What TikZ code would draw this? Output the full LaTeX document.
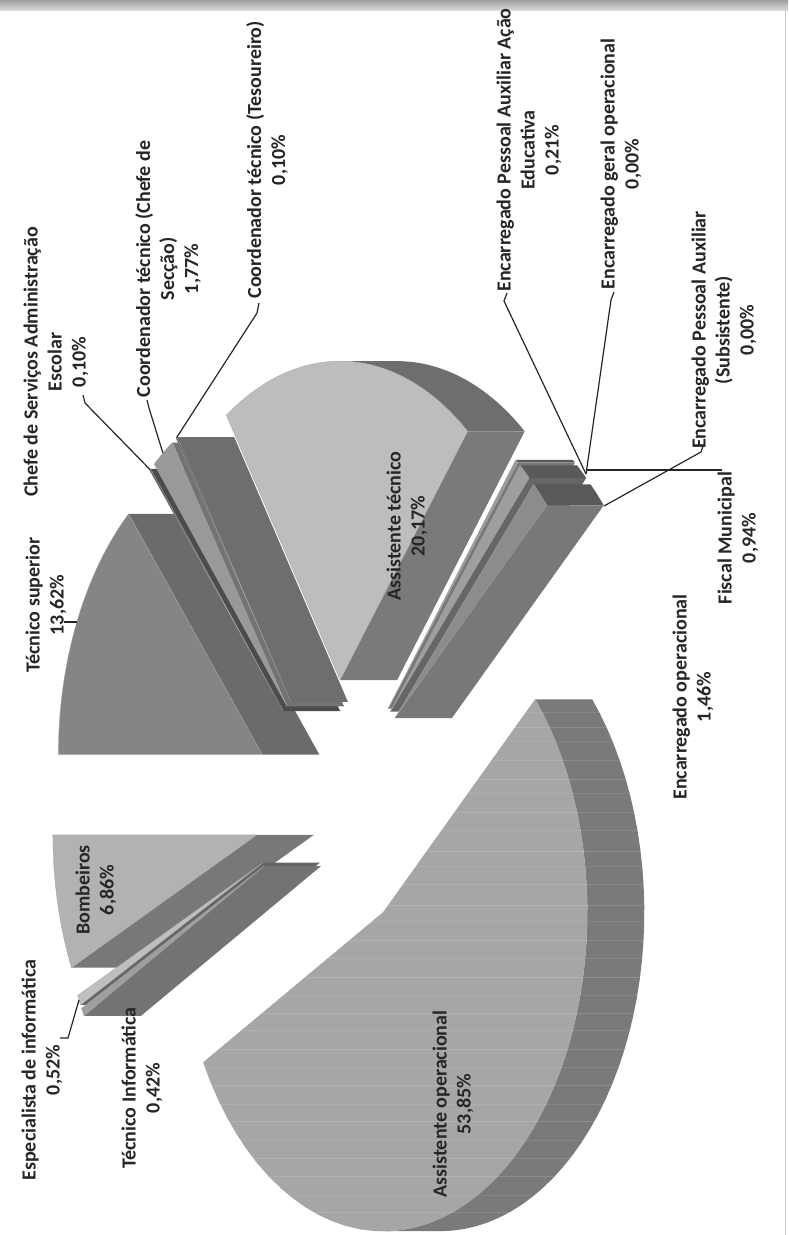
\documentclass[tikz,border=0pt]{standalone}
\usepackage{fontspec}
\setmainfont{Carlito}
\definecolor{tsf}{gray}{0.52}
\definecolor{tsw}{gray}{0.42}
\definecolor{chf}{gray}{0.33}
\definecolor{chw}{gray}{0.30}
\definecolor{secf}{gray}{0.60}
\definecolor{secw}{gray}{0.45}
\definecolor{tesf}{gray}{0.35}
\definecolor{tesw}{gray}{0.43}
\definecolor{atf}{gray}{0.74}
\definecolor{atw}{gray}{0.48}
\definecolor{atr}{gray}{0.43}
\definecolor{saf}{gray}{0.60}
\definecolor{saw}{gray}{0.47}
\definecolor{sbf}{gray}{0.62}
\definecolor{sbw}{gray}{0.40}
\definecolor{scf}{gray}{0.55}
\definecolor{scw}{gray}{0.47}
\definecolor{slr}{gray}{0.35}
\definecolor{bigf}{gray}{0.65}
\definecolor{bigw}{gray}{0.48}
\definecolor{bof}{gray}{0.70}
\definecolor{bow}{gray}{0.47}
\definecolor{esf}{gray}{0.75}
\definecolor{esw}{gray}{0.40}
\definecolor{tif}{gray}{0.62}
\definecolor{tiw}{gray}{0.45}
% slice centre from its two angles (exploded pie model)
\newcommand\setslice[2]{%
  \pgfmathsetmacro\slmid{(#1+#2)/2}%
  \pgfmathsetmacro\slcx{336.6-81.6*cos(\slmid)}%
  \pgfmathsetmacro\slcy{807.6-127.6*sin(\slmid)}}
\newcommand\radwall[2]{%
  \fill[#2] (\slcx,\slcy) -- ({\slcx-204*cos(#1)},{\slcy-319*sin(#1)})
    -- ({\slcx+57-204*cos(#1)},{\slcy-319*sin(#1)}) -- ({\slcx+57},\slcy) -- cycle;}
\newcommand\rimpath[2]{plot[domain=0:1,samples=40,variable=\myu]
      ({\slcx-204*cos(#1+(#2-#1)*\myu)},{\slcy-319*sin(#1+(#2-#1)*\myu)})
    -- plot[domain=0:1,samples=40,variable=\myu]
      ({\slcx+57-204*cos(#2-(#2-#1)*\myu)},{\slcy-319*sin(#2-(#2-#1)*\myu)}) -- cycle}
\newcommand\rimwall[3]{\fill[#3] \rimpath{#1}{#2};}
\newcommand\facepath[2]{(\slcx,\slcy) -- plot[domain=0:1,samples=50,variable=\myu]
      ({\slcx-204*cos(#1+(#2-#1)*\myu)},{\slcy-319*sin(#1+(#2-#1)*\myu)}) -- cycle}
\newcommand\sliceface[3]{\filldraw[fill=#3,facedraw] \facepath{#1}{#2};}
\newcommand\streaks{\foreach \yy/\oo in {712/0.10,727/0.14,741/0.08,760/0.12,779/0.15,793/0.08,812/0.13,830/0.10,851/0.16,866/0.09,884/0.12,905/0.15,921/0.08,940/0.13,958/0.10,977/0.16,995/0.09,1013/0.14,1030/0.11,1049/0.15,1067/0.08,1085/0.13,1104/0.10,1121/0.15,1140/0.09,1158/0.12,1176/0.14,1195/0.08,1212/0.12}
  {\draw[draw=white,opacity=\oo,line width=1pt] (190,\yy) -- (660,\yy);}}
\begin{document}
\begin{tikzpicture}[x=1pt,y=-1pt,
  lbl/.style={rotate=90,align=center,font=\fontsize{20}{24}\selectfont\bfseries,text=black!85,inner sep=0pt},
  leader/.style={draw=black!85,line width=1.2pt},
  facedraw/.style={draw=black!35,line width=0.3pt}]
\useasboundingbox (0,0) rectangle (788,1235);
\fill[white] (0,0) rectangle (788,1235);
\shade[top color=gray!75,bottom color=gray!30] (0,0) rectangle (788,10);
\draw[gray!40,line width=1pt] (785,10) -- (785,1235);

% Tecnico superior
\setslice{0}{49.03}
\radwall{49.03}{tsw}
\sliceface{0}{49.03}{tsf}
% Chefe de Servicos
\setslice{49.03}{49.39}
\radwall{49.39}{chw}
\sliceface{49.03}{49.39}{chf}
% Coordenador (Chefe de Seccao)
\setslice{49.39}{55.76}
\radwall{55.76}{secw}
\sliceface{49.39}{55.76}{secf}
% Coordenador (Tesoureiro)
\setslice{55.76}{56.12}
\radwall{56.12}{tesw}
\sliceface{55.76}{56.12}{tesf}
% Assistente tecnico
\setslice{56.12}{128.74}
\rimwall{90}{128.74}{atr}
\radwall{128.74}{atw}
\sliceface{56.12}{128.74}{atf}
% Encarregado PA Acao Educativa
\setslice{128.74}{129.50}
\rimwall{128.74}{129.50}{slr}
\radwall{129.50}{saw}
\sliceface{128.74}{129.50}{saf}
% Fiscal Municipal
\setslice{129.50}{132.88}
\rimwall{129.50}{132.88}{slr}
\radwall{132.88}{sbw}
\sliceface{129.50}{132.88}{sbf}
% Encarregado operacional
\setslice{132.88}{138.14}
\rimwall{132.88}{138.14}{slr}
\radwall{138.14}{scw}
\sliceface{132.88}{138.14}{scf}
% Bombeiros
\setslice{335.38}{360}
\radwall{335.38}{bow}
\sliceface{335.38}{360}{bof}
% Especialista de informatica
\setslice{333.50}{335.38}
\radwall{333.50}{esw}
\sliceface{333.50}{335.38}{esf}
% Tecnico Informatica
\setslice{331.99}{333.50}
\radwall{331.99}{tiw}
\sliceface{331.99}{333.50}{tif}
% Assistente operacional
\setslice{138.14}{331.99}
\rimwall{138.14}{270}{bigw}
\sliceface{138.14}{331.99}{bigf}
% faint scan streaks on the large slice
\begin{scope}
  \clip \facepath{138.14}{331.99};
  \streaks
\end{scope}
\begin{scope}
  \clip \rimpath{138.14}{270};
  \streaks
\end{scope}

% labels
\node[lbl] (lch) at (56,362) {Chefe de Serviços Administração\\Escolar\\0,10\%};
\node[lbl] (lsec) at (168,269) {Coordenador técnico (Chefe de\\Secção)\\1,77\%};
\node[lbl] (ltes) at (267,160) {Coordenador técnico (Tesoureiro)\\0,10\%};
\node[lbl] (lts) at (46,605) {Técnico superior\\13,62\%};
\node[lbl] (lat) at (407,526) {Assistente técnico\\20,17\%};
\node[lbl] (lpa) at (529,150) {Encarregado Pessoal Auxiliar Ação\\Educativa\\0,21\%};
\node[lbl] (lgo) at (621,164) {Encarregado geral operacional\\0,00\%};
\node[lbl] (lsub) at (724,330) {Encarregado Pessoal Auxiliar\\(Subsistente)\\0,00\%};
\node[lbl] (lfis) at (738,538) {Fiscal Municipal\\0,94\%};
\node[lbl] (lop) at (693,697) {Encarregado operacional\\1,46\%};
\node[lbl] (lao) at (453,1104) {Assistente operacional\\53,85\%};
\node[lbl] (lti) at (142,1088) {Técnico Informática\\0,42\%};
\node[lbl] (les) at (42,1070) {Especialista de informática\\0,52\%};
\node[lbl] (lbo) at (96,890) {Bombeiros\\6,86\%};

% leader lines
\coordinate (ch1) at (83,395); \coordinate (ch2) at (85,403); \coordinate (ch3) at (150,469.5);
\coordinate (se1) at (147,400); \coordinate (se2) at (149,408); \coordinate (se3) at (162.9,453);
\coordinate (te1) at (259,303); \coordinate (te2) at (257,313); \coordinate (te3) at (176.6,437.6);
\coordinate (ts1) at (64,622); \coordinate (ts2) at (76.7,622);
\coordinate (es1) at (60,1038); \coordinate (es2) at (68,1038); \coordinate (es3) at (79,1000);
\coordinate (pa1) at (507,293); \coordinate (pa2) at (504,301); \coordinate (hub) at (586,474);
\coordinate (go1) at (614,292); \coordinate (go2) at (611,300);
\coordinate (fi1) at (586,470); \coordinate (fi2) at (722,470);
\coordinate (su1) at (703,446); \coordinate (su2) at (701,452); \coordinate (su3) at (604,506);
\draw[leader] (ch1) -- (ch2) -- (ch3);
\draw[leader] (se1) -- (se2) -- (se3);
\draw[leader] (te1) -- (te2) -- (te3);
\draw[leader] (ts1) -- (ts2);
\draw[leader] (es1) -- (es2) -- (es3);
\draw[leader] (pa1) -- (pa2) -- (hub);
\draw[leader] (go1) -- (go2) -- (hub);
\draw[leader] (fi1) -- (fi2);
\draw[leader] (su1) -- (su2) -- (su3);
\end{tikzpicture}
\end{document}
